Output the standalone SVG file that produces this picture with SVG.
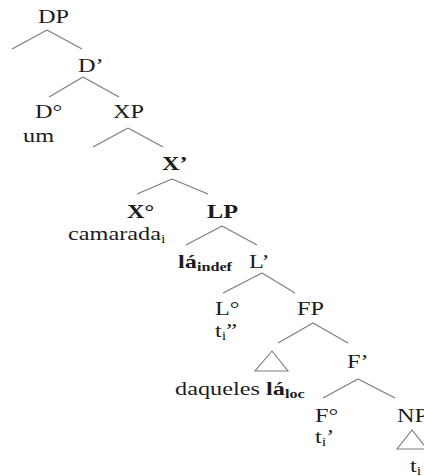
<svg xmlns="http://www.w3.org/2000/svg" width="424" height="476" viewBox="0 0 424 476">
<style>
text{font-family:"Liberation Serif","Times New Roman",serif;font-size:18px;fill:#1c1c1c}
.b{font-weight:bold}
.s{font-size:12px}
.e line{stroke:#7a7a7a;stroke-width:1.1;fill:none}
.tri{stroke:#7a7a7a;stroke-width:1.1;fill:none}
</style>
<rect width="424" height="476" fill="#fff"/>
<g class="e" id="connectors">
<line x1="47" y1="30" x2="12" y2="49"/><line x1="47" y1="30" x2="82" y2="49"/>
<line x1="83" y1="77" x2="49" y2="97"/><line x1="83" y1="77" x2="119" y2="97"/>
<line x1="128" y1="128" x2="93" y2="147"/><line x1="128" y1="128" x2="163" y2="147"/>
<line x1="172" y1="179" x2="137" y2="194"/><line x1="172" y1="179" x2="208" y2="194"/>
<line x1="222" y1="226" x2="186" y2="245"/><line x1="222" y1="226" x2="257" y2="245"/>
<line x1="262" y1="273" x2="223" y2="293"/><line x1="262" y1="273" x2="295" y2="293"/>
<line x1="313" y1="323" x2="278" y2="343"/><line x1="313" y1="323" x2="348" y2="343"/>
<line x1="358" y1="379" x2="323" y2="398"/><line x1="358" y1="379" x2="395" y2="398"/>
</g>
<g id="DP"><text transform="translate(38,23) scale(1.35,1)">DP</text></g>
<g id="Dbar"><text transform="translate(78,72) scale(1.35,1)">D’</text></g>
<g id="D0"><text transform="translate(35,118) scale(1.35,1)">D°</text><text transform="translate(23,142) scale(1.35,1)">um</text></g>
<g id="XP"><text transform="translate(113,118) scale(1.35,1)">XP</text></g>
<g id="Xbar"><text class="b" transform="translate(162,170) scale(1.35,1)">X’</text></g>
<g id="X0"><text class="b" transform="translate(127,218) scale(1.35,1)">X°</text><text transform="translate(68,240) scale(1.35,1)">camarada<tspan class="s" dy="3">i</tspan></text></g>
<g id="LP"><text class="b" transform="translate(207,218) scale(1.35,1)">LP</text></g>
<g id="la-indef"><text class="b" transform="translate(178,268) scale(1.35,1)">lá<tspan class="s" dy="3">indef</tspan></text></g>
<g id="Lbar"><text transform="translate(249,268) scale(1.35,1)">L’</text></g>
<g id="L0"><text transform="translate(215,315) scale(1.35,1)">L°</text><text transform="translate(215,337) scale(1.35,1)">t<tspan class="s" dy="3">i</tspan><tspan dy="-3">”</tspan></text></g>
<g id="FP"><text transform="translate(297,315) scale(1.35,1)">FP</text></g>
<g id="spec-FP"><polygon class="tri" points="272,351 255,371 288,371"/><text transform="translate(175,395) scale(1.35,1)">daqueles <tspan class="b">lá</tspan><tspan class="b s" dy="3">loc</tspan></text></g>
<g id="Fbar"><text transform="translate(347,368) scale(1.35,1)">F’</text></g>
<g id="F0"><text transform="translate(315,422) scale(1.35,1)">F°</text><text transform="translate(315,443) scale(1.35,1)">t<tspan class="s" dy="3">i</tspan><tspan dy="-3">’</tspan></text></g>
<g id="NP"><text transform="translate(397,422) scale(1.35,1)">NP</text><polygon class="tri" points="412,430 397,449 427,449"/><text transform="translate(410,472) scale(1.35,1)">t<tspan class="s" dy="3">i</tspan></text></g>
</svg>
